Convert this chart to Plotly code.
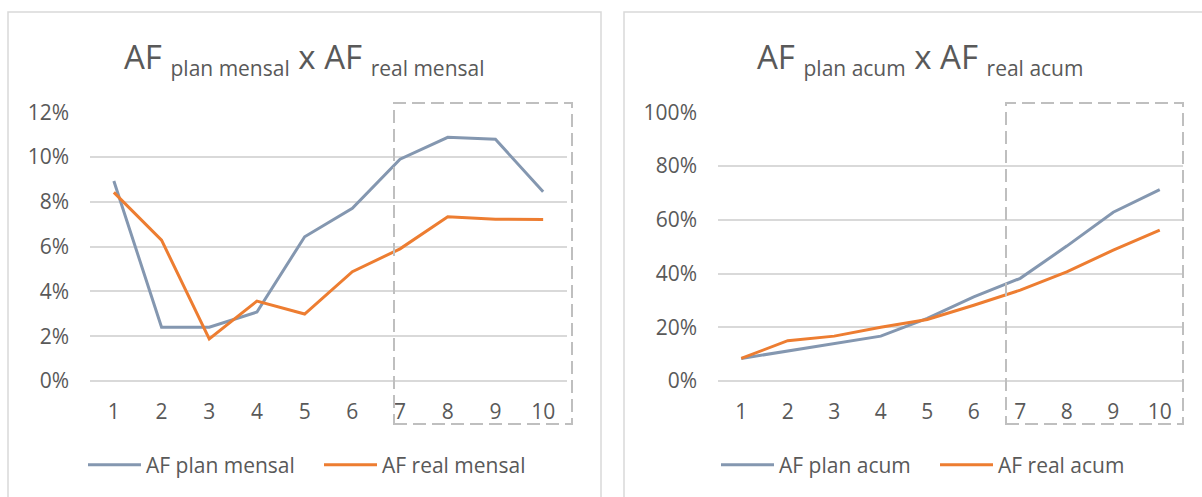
import plotly.graph_objects as go

W, H = 1202, 497

months = [1, 2, 3, 4, 5, 6, 7, 8, 9, 10]
tick_labels = ["1", "2", "3", "4", "5", "6", "7", "8", "9", "10"]

af_plan_mensal = [0.0893, 0.0240, 0.0240, 0.0308, 0.0644, 0.0771, 0.0990, 0.1088, 0.1079, 0.0845]
af_real_mensal = [0.0842, 0.0629, 0.0188, 0.0357, 0.0299, 0.0488, 0.0590, 0.0733, 0.0722, 0.0721]

af_plan_acum = [0.084, 0.111, 0.140, 0.167, 0.233, 0.313, 0.382, 0.502, 0.628, 0.712]
af_real_acum = [0.084, 0.150, 0.167, 0.200, 0.229, 0.282, 0.338, 0.406, 0.487, 0.561]

BLUE = "#8497B0"
ORANGE = "#ED7D31"
GRID = "#D9D9D9"
TEXT = "#595959"
FONT = "Open Sans"


def px(x):
    return x / W


def py(y):
    return 1 - y / H


fig = go.Figure()

fig.add_trace(go.Scatter(x=months, y=af_plan_mensal, mode="lines", name="AF plan mensal",
                         line=dict(color=BLUE, width=3), xaxis="x", yaxis="y", legend="legend"))
fig.add_trace(go.Scatter(x=months, y=af_real_mensal, mode="lines", name="AF real mensal",
                         line=dict(color=ORANGE, width=3), xaxis="x", yaxis="y", legend="legend"))
fig.add_trace(go.Scatter(x=months, y=af_plan_acum, mode="lines", name="AF plan acum",
                         line=dict(color=BLUE, width=3), xaxis="x2", yaxis="y2", legend="legend2"))
fig.add_trace(go.Scatter(x=months, y=af_real_acum, mode="lines", name="AF real acum",
                         line=dict(color=ORANGE, width=3), xaxis="x2", yaxis="y2", legend="legend2"))

ydom = [py(381), py(112)]

xcommon = dict(range=[0.5, 10.5], tickvals=months, ticktext=tick_labels, showgrid=False,
               zeroline=False, showline=False, ticks="", ticklabelstandoff=16, automargin=False,
               tickfont=dict(family=FONT, size=21, color=TEXT), fixedrange=True)
ycommon = dict(showgrid=True, gridcolor=GRID, gridwidth=1.5, zeroline=True, zerolinecolor=GRID,
               zerolinewidth=1.5, showline=False, ticks="", ticklabelstandoff=20, automargin=False,
               tickformat=".0%", tickfont=dict(family=FONT, size=21, color=TEXT), fixedrange=True)

fig.update_layout(
    width=W, height=H,
    margin=dict(l=0, r=0, t=0, b=0, pad=0, autoexpand=False),
    paper_bgcolor="white", plot_bgcolor="white",
    font=dict(family=FONT, color=TEXT, size=21),
    xaxis=dict(domain=[px(90), px(567)], anchor="y", **xcommon),
    yaxis=dict(domain=ydom, anchor="x", range=[0, 0.1201], dtick=0.02, **ycommon),
    xaxis2=dict(domain=[px(718), px(1183)], anchor="y2", **xcommon),
    yaxis2=dict(domain=ydom, anchor="x2", range=[0, 1.001], dtick=0.2, **ycommon),
    legend=dict(orientation="h", x=px(83), y=py(465), xanchor="left", yanchor="middle",
                font=dict(family=FONT, size=21, color=TEXT), entrywidth=168, entrywidthmode="pixels",
                itemwidth=53, bgcolor="rgba(0,0,0,0)"),
    legend2=dict(orientation="h", x=px(716), y=py(465), xanchor="left", yanchor="middle",
                 font=dict(family=FONT, size=21, color=TEXT), entrywidth=151, entrywidthmode="pixels",
                 itemwidth=53, bgcolor="rgba(0,0,0,0)"),
    showlegend=True,
)

SUB = "<sub><span style='font-size:21px'>{}</span></sub>"

# titles
fig.add_annotation(text="AF " + SUB.format("plan mensal") + " x AF " + SUB.format("real mensal"),
                   x=px(304), y=py(58), xref="paper", yref="paper", showarrow=False,
                   xanchor="center", yanchor="middle", font=dict(family=FONT, size=33, color=TEXT))
fig.add_annotation(text="AF " + SUB.format("plan acum") + " x AF " + SUB.format("real acum"),
                   x=px(920), y=py(58), xref="paper", yref="paper", showarrow=False,
                   xanchor="center", yanchor="middle", font=dict(family=FONT, size=33, color=TEXT))

# panel borders
for x0, x1 in [(8, 601), (624, 1215)]:
    fig.add_shape(type="rect", xref="paper", yref="paper", x0=px(x0), x1=px(x1), y0=py(520), y1=py(12),
                  line=dict(color=GRID, width=1.5), fillcolor="rgba(0,0,0,0)", layer="below")

# dashed highlight boxes
for x0, x1 in [(394, 572), (1006, 1183)]:
    fig.add_shape(type="rect", xref="paper", yref="paper", x0=px(x0), x1=px(x1), y0=py(424), y1=py(103),
                  line=dict(color="#BFBFBF", width=2, dash="13px,6px"), fillcolor="rgba(0,0,0,0)",
                  layer="above")

fig.write_html("out.html")
